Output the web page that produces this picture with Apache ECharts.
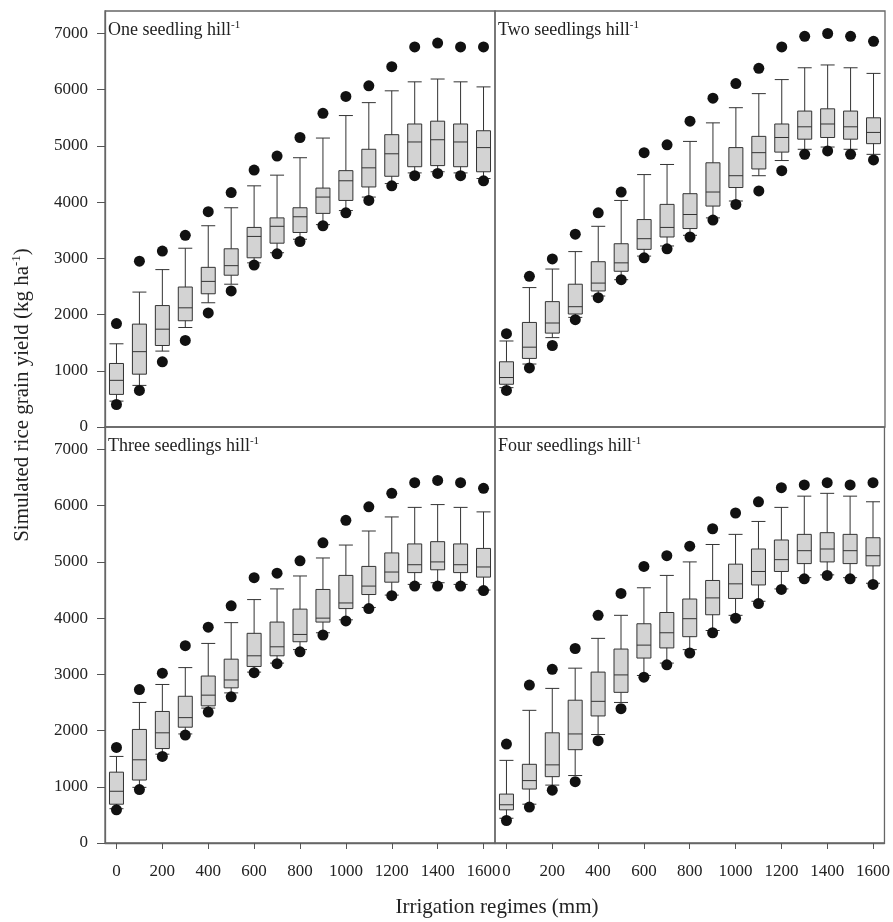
<!DOCTYPE html>
<html>
<head>
<meta charset="utf-8">
<script src="https://cdn.jsdelivr.net/npm/echarts@6/dist/echarts.min.js"></script>
<style>
html,body{margin:0;padding:0;background:#fff;}
#chart{width:893px;height:922px;}
</style>
</head>
<body>
<div id="chart"></div>
<script>
// Irrigation regimes (mm)
const categories = ['0','100','200','300','400','500','600','700','800','900','1000','1100','1200','1300','1400','1500','1600'];
const yTicks = [0,1000,2000,3000,4000,5000,6000,7000];

// Each row: [5th pct dot, lower whisker, Q1, median, Q3, upper whisker, 95th pct dot]
const oneSeedling = [
  [400,460,580,830,1130,1480,1840],
  [650,740,940,1340,1830,2400,2950],
  [1160,1350,1450,1740,2160,2800,3130],
  [1540,1770,1890,2120,2490,3180,3410],
  [2030,2210,2370,2590,2840,3580,3830],
  [2420,2540,2700,2870,3170,3900,4170],
  [2880,2920,3010,3390,3550,4290,4570],
  [3080,3100,3270,3570,3720,4480,4820],
  [3300,3340,3460,3740,3900,4790,5150],
  [3580,3600,3800,4090,4250,5140,5580],
  [3810,3850,4030,4380,4560,5540,5880],
  [4030,4090,4270,4610,4940,5770,6070],
  [4290,4330,4460,4860,5200,5980,6410],
  [4470,4520,4630,5070,5390,6140,6760],
  [4510,4540,4650,5110,5440,6190,6830],
  [4470,4520,4630,5070,5390,6140,6760],
  [4380,4420,4540,4970,5270,6050,6760]
];
const twoSeedlings = [
  [650,700,760,880,1160,1530,1660],
  [1050,1120,1220,1420,1860,2480,2680],
  [1450,1590,1670,1850,2230,2810,2990],
  [1910,1950,2010,2140,2540,3120,3430],
  [2300,2330,2420,2560,2940,3570,3810],
  [2620,2620,2770,2920,3260,4030,4180],
  [3010,3040,3160,3350,3690,4490,4880],
  [3170,3220,3380,3550,3960,4670,5020],
  [3380,3410,3530,3780,4150,5080,5440],
  [3680,3720,3930,4180,4700,5410,5850],
  [3960,4020,4260,4470,4970,5680,6110],
  [4200,4470,4590,4880,5170,5930,6380],
  [4560,4740,4890,5150,5390,6180,6760],
  [4850,4940,5120,5340,5620,6390,6950],
  [4910,4980,5150,5390,5660,6440,7000],
  [4850,4940,5120,5340,5620,6390,6950],
  [4750,4850,5040,5240,5500,6290,6860]
];
const threeSeedlings = [
  [590,610,690,920,1260,1540,1700],
  [950,990,1120,1480,2020,2500,2730],
  [1540,1580,1680,1960,2340,2820,3020],
  [1920,1940,2060,2230,2610,3120,3510],
  [2330,2400,2440,2630,2970,3550,3840],
  [2600,2670,2760,2900,3270,3920,4220],
  [3030,3040,3140,3330,3730,4330,4720],
  [3190,3200,3330,3490,3930,4520,4800],
  [3400,3440,3580,3710,4160,4750,5020],
  [3700,3740,3930,4000,4510,5070,5340],
  [3950,3970,4170,4270,4760,5300,5740],
  [4170,4190,4420,4570,4920,5550,5980],
  [4400,4410,4640,4820,5160,5800,6220],
  [4570,4600,4810,4950,5320,5970,6410],
  [4570,4630,4860,5000,5360,6020,6450],
  [4570,4600,4810,4950,5320,5970,6410],
  [4490,4500,4730,4910,5240,5890,6310]
];
const fourSeedlings = [
  [400,440,590,680,870,1470,1760],
  [640,690,960,1110,1400,2360,2810],
  [940,1030,1180,1390,1960,2750,3090],
  [1090,1200,1660,1940,2540,3110,3460],
  [1820,1930,2260,2520,3040,3640,4050],
  [2390,2500,2680,2990,3450,4050,4440],
  [2950,2980,3290,3520,3900,4540,4920],
  [3170,3200,3470,3740,4100,4760,5110],
  [3380,3440,3670,3990,4340,5000,5280],
  [3740,3780,4060,4360,4670,5310,5590],
  [4000,4050,4350,4610,4960,5490,5870],
  [4260,4300,4590,4830,5230,5720,6070],
  [4510,4520,4830,5040,5390,5970,6320],
  [4700,4720,4970,5200,5490,6170,6370],
  [4760,4770,5000,5230,5520,6220,6410],
  [4700,4720,4970,5200,5490,6170,6370],
  [4600,4620,4930,5110,5430,6070,6410]
];
const panelData = [oneSeedling, twoSeedlings, threeSeedlings, fourSeedlings];
const panelTitles = ['One seedling hill', 'Two seedlings hill', 'Three seedlings hill', 'Four seedlings hill'];

const FONT = '"Liberation Serif", "Times New Roman", serif';
const TXT = '#222';
const BORDER = '#666';

const gridPos = [
  {left:105, top:11},
  {left:495, top:11},
  {left:105, top:427},
  {left:495, top:427}
];

const grids = gridPos.map(p => ({
  left:p.left, top:p.top, width:390, height:416,
  show:true, borderColor:BORDER, borderWidth:1.3, backgroundColor:'transparent'
}));

const xAxes = gridPos.map((p,i) => {
  const bottom = i >= 2;
  return {
    type:'category', gridIndex:i, data:categories, boundaryGap:true,
    axisLine:{show:bottom, lineStyle:{color:BORDER, width:1.3}},
    axisTick:{show:bottom, interval:1, alignWithLabel:true, length:6, lineStyle:{color:'#555', width:1}},
    axisLabel:{show:bottom, interval:1, fontSize:17, fontFamily:FONT, color:TXT, margin:20},
    splitLine:{show:false}
  };
});

const yAxes = gridPos.map((p,i) => {
  const left = (i % 2) === 0;
  return {
    type:'value', gridIndex:i, min:0, max:7400, interval:1000,
    axisLine:{show:left, lineStyle:{color:BORDER, width:1.3}},
    axisTick:{show:left, length:8, customValues:yTicks, lineStyle:{color:'#555', width:1}},
    axisLabel:{show:left, customValues:yTicks, formatter:(v) => String(v), fontSize:17, fontFamily:FONT, color:TXT, margin:17},
    splitLine:{show:false}
  };
});

const series = [];
panelData.forEach((rows, i) => {
  series.push({
    type:'boxplot', xAxisIndex:i, yAxisIndex:i,
    boxWidth:[14,14],
    data: rows.map(r => [r[1], r[2], r[3], r[4], r[5]]),
    itemStyle:{color:'#d3d3d3', borderColor:'#333', borderWidth:1},
    emphasis:{disabled:true}, animation:false, z:2
  });
  const dots = [];
  rows.forEach((r, k) => { dots.push([k, r[0]]); dots.push([k, r[6]]); });
  series.push({
    type:'scatter', xAxisIndex:i, yAxisIndex:i,
    data:dots, symbol:'circle', symbolSize:11,
    itemStyle:{color:'#111', opacity:1}, emphasis:{disabled:true}, animation:false, z:3
  });
});

const titleRich = {
  a:{fontSize:18, fontFamily:FONT, fontWeight:'normal', color:TXT, lineHeight:20},
  s:{fontSize:11, fontFamily:FONT, fontWeight:'normal', color:TXT, lineHeight:11, verticalAlign:'top'}
};
const titles = panelTitles.map((t, i) => ({
  text:'{a|' + t + '}{s|-1}',
  left: gridPos[i].left + 3,
  top: gridPos[i].top + 9,
  padding:0,
  textStyle:{fontWeight:'normal', rich:titleRich}
}));

const chart = echarts.init(document.getElementById('chart'), null, {renderer:'canvas'});
chart.setOption({
  animation:false,
  backgroundColor:'#fff',
  title:titles,
  grid:grids,
  xAxis:xAxes,
  yAxis:yAxes,
  series:series,
  graphic:[
    {
      type:'text', x:22, y:395, rotation:Math.PI/2,
      style:{
        text:'{a|Simulated rice grain yield (kg ha}{s|-1}{a|)}',
        align:'center', verticalAlign:'middle',
        rich:{
          a:{fontSize:21, fontFamily:FONT, fill:TXT, lineHeight:24},
          s:{fontSize:13, fontFamily:FONT, fill:TXT, lineHeight:13, verticalAlign:'top'}
        }
      }
    },
    {
      type:'text', x:497, y:907,
      style:{
        text:'Irrigation regimes (mm)',
        fontSize:21, fontFamily:FONT, fill:TXT,
        align:'center', verticalAlign:'middle'
      }
    }
  ]
});
</script>
</body>
</html>
